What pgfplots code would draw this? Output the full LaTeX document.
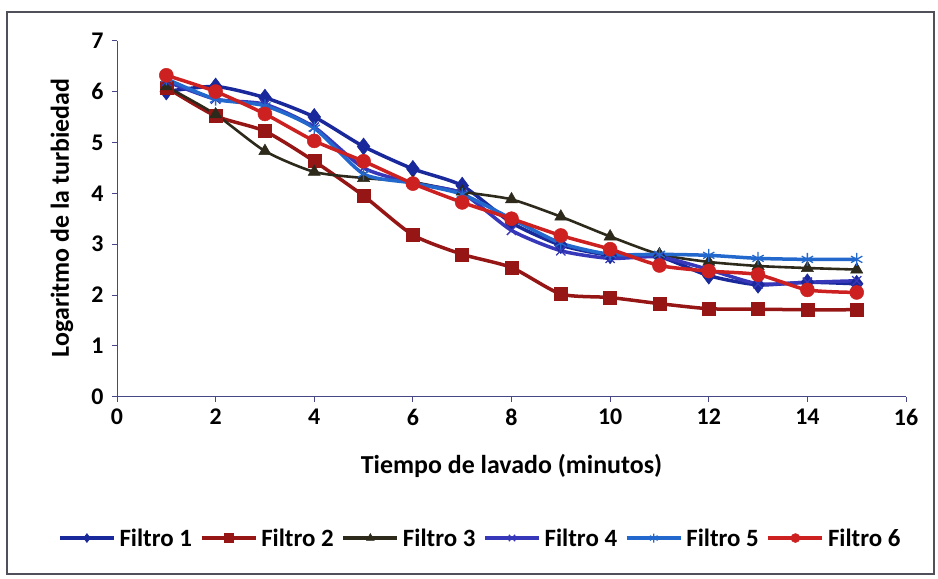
\documentclass[border=0pt]{standalone}
\usepackage{fontspec}
\setmainfont{Carlito}
\usepackage{pgfplots}
\pgfplotsset{compat=1.18}
\definecolor{cF1}{RGB}{25,40,155}
\definecolor{cF2}{RGB}{150,22,22}
\definecolor{cF3}{RGB}{45,42,28}
\definecolor{cF4}{RGB}{55,55,185}
\definecolor{cF5}{RGB}{35,105,205}
\definecolor{cF6}{RGB}{205,32,32}
\definecolor{frameC}{RGB}{80,80,90}
\begin{document}
\begin{tikzpicture}
\path[use as bounding box] (-117bp,-182.3bp) rectangle (821bp,396.7bp);
\draw[frameC, line width=1.6bp] (-110bp,-177bp) rectangle (817bp,384.7bp);
\begin{axis}[
  at={(0,0)}, anchor=south west,
  scale only axis, width=789bp, height=356bp,
  xmin=0, xmax=16, ymin=0, ymax=7,
  xtick={0,2,...,16}, ytick={0,1,...,7},
  axis lines=left, axis line style={-, draw=gray!70!blue!80!black, line width=0.8bp},
  tick align=outside, major tick length=5bp,
  tick style={draw=gray!70!blue!80!black, line width=0.8bp},
  /pgf/number format/assume math mode=true,
  ticklabel style={font=\fontsize{24}{28}\selectfont\bfseries},
  xticklabel style={yshift=-4bp},
  yticklabel style={xshift=-5bp},
  xlabel={\textbf{Tiempo de lavado (minutos)}},
  ylabel={\textbf{Logaritmo de la turbiedad}},
  label style={font=\fontsize{26}{30}\selectfont},
  xlabel style={at={(axis description cs:0.50,-0.195)}, anchor=center},
  ylabel style={at={(axis description cs:-0.0697,0.502)}, anchor=center, rotate=0},
  legend columns=6,
  legend style={at={(axis description cs:0.46,-0.397)}, anchor=center, draw=none,
    font=\fontsize{25}{29}\selectfont\bfseries, inner sep=0bp,
    nodes={inner xsep=1bp},
    /tikz/every odd column/.append style={column sep=3bp},
    /tikz/every even column/.append style={column sep=7bp}},
  legend image code/.code={\draw[#1] (0bp,0bp) -- (27bp,0bp) plot coordinates {(27bp,0bp)} -- (54bp,0bp);},
  legend image post style={mark size=4.5bp, line width=3.2bp},
  every axis plot/.append style={line width=3.5bp, smooth, tension=0.4},
  clip=false,
]
\addplot[color=cF1, mark=diamond*, mark size=8.5bp, mark options={solid, fill=cF1, line width=0.5bp}] coordinates {
(1,6.00) (2,6.10) (3,5.88) (4,5.50) (5,4.92) (6,4.48) (7,4.15) (8,3.42) (9,2.98) (10,2.78) (11,2.75) (12,2.38) (13,2.20) (14,2.25) (15,2.22)};
\addlegendentry{Filtro 1}
\addplot[color=cF2, mark=square*, mark size=6.5bp, mark options={solid, fill=cF2, line width=0.5bp}] coordinates {
(1,6.08) (2,5.52) (3,5.22) (4,4.63) (5,3.95) (6,3.18) (7,2.80) (8,2.54) (9,2.02) (10,1.95) (11,1.83) (12,1.73) (13,1.72) (14,1.71) (15,1.71)};
\addlegendentry{Filtro 2}
\addplot[color=cF3, line width=2.6bp, mark=triangle*, mark size=7bp, mark options={solid, fill=cF3, line width=0.5bp}] coordinates {
(1,6.10) (2,5.55) (3,4.83) (4,4.42) (5,4.30) (6,4.22) (7,4.03) (8,3.88) (9,3.54) (10,3.15) (11,2.80) (12,2.65) (13,2.57) (14,2.53) (15,2.50)};
\addlegendentry{Filtro 3}
\addplot[color=cF4, mark=x, mark size=6.5bp, mark options={solid, line width=1.3bp}] coordinates {
(1,6.20) (2,5.85) (3,5.75) (4,5.30) (5,4.50) (6,4.20) (7,4.00) (8,3.27) (9,2.87) (10,2.72) (11,2.75) (12,2.50) (13,2.22) (14,2.25) (15,2.28)};
\addlegendentry{Filtro 4}
\addplot[color=cF5, mark=asterisk, mark size=6.5bp, mark options={solid, line width=1.3bp}] coordinates {
(1,6.25) (2,5.85) (3,5.72) (4,5.28) (5,4.38) (6,4.20) (7,3.98) (8,3.50) (9,3.02) (10,2.80) (11,2.80) (12,2.78) (13,2.72) (14,2.70) (15,2.70)};
\addlegendentry{Filtro 5}
\addplot[color=cF6, mark=*, mark size=7bp, mark options={solid, fill=cF6, line width=0.5bp}] coordinates {
(1,6.32) (2,6.00) (3,5.56) (4,5.03) (5,4.63) (6,4.19) (7,3.82) (8,3.50) (9,3.17) (10,2.90) (11,2.58) (12,2.47) (13,2.40) (14,2.10) (15,2.05)};
\addlegendentry{Filtro 6}
\end{axis}
\end{tikzpicture}
\end{document}
